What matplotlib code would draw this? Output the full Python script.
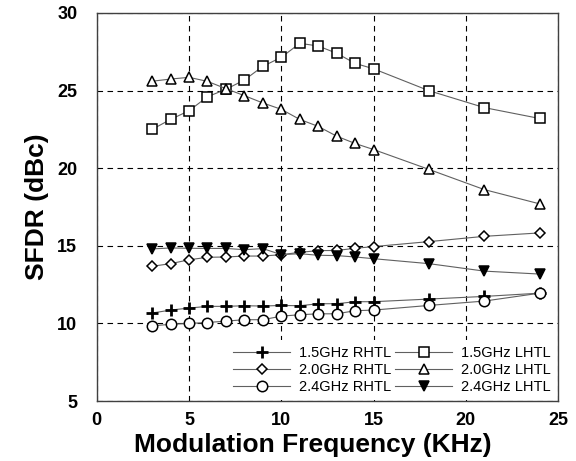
import matplotlib
matplotlib.use('Agg')
import matplotlib.pyplot as plt

plt.rcParams['font.family'] = ['Liberation Sans', 'DejaVu Sans']

# frequences de modulation (KHz)
freq = [3, 4, 5, 6, 7, 8, 9, 10, 11, 12, 13, 14, 15, 18, 21, 24]

# SFDR (dBc)
rhtl_15 = [10.67, 10.86, 10.99, 11.1, 11.1, 11.14, 11.12, 11.16, 11.14, 11.27, 11.27, 11.4, 11.4, 11.57, 11.74, 11.95]
rhtl_20 = [13.68, 13.85, 14.1, 14.26, 14.28, 14.34, 14.34, 14.43, 14.58, 14.69, 14.7, 14.84, 14.95, 15.27, 15.61, 15.83]
rhtl_24 = [9.85, 9.94, 10.0, 10.06, 10.15, 10.24, 10.24, 10.47, 10.56, 10.62, 10.62, 10.82, 10.86, 11.16, 11.44, 11.95]
lhtl_15 = [22.5, 23.14, 23.7, 24.6, 25.08, 25.68, 26.56, 27.14, 28.04, 27.87, 27.4, 26.75, 26.4, 24.99, 23.9, 23.2]
lhtl_20 = [25.6, 25.74, 25.85, 25.59, 25.12, 24.67, 24.2, 23.79, 23.14, 22.69, 22.06, 21.59, 21.2, 19.92, 18.62, 17.7]
lhtl_24 = [14.8, 14.86, 14.84, 14.83, 14.83, 14.75, 14.82, 14.43, 14.49, 14.39, 14.37, 14.28, 14.17, 13.85, 13.37, 13.18]

fig = plt.figure(figsize=(5.76, 4.61), dpi=100)
ax = fig.add_axes([0.168, 0.130, 0.801, 0.842])

ligne = dict(color='#606060', lw=0.8, mec='black', mew=1.1)
# ordre colonne par colonne pour la legende (RHTL puis LHTL)
ax.plot(freq, rhtl_15, marker='+', ms=9, mew=2, color='#606060', lw=0.8, mec='black', label='1.5GHz RHTL')
ax.plot(freq, rhtl_20, marker='D', ms=5, mfc='white', label='2.0GHz RHTL', **ligne)
ax.plot(freq, rhtl_24, marker='o', ms=7.5, mfc='white', label='2.4GHz RHTL', **ligne)
ax.plot(freq, lhtl_15, marker='s', ms=7, mfc='white', label='1.5GHz LHTL', **ligne)
ax.plot(freq, lhtl_20, marker='^', ms=7, mfc='white', label='2.0GHz LHTL', **ligne)
ax.plot(freq, lhtl_24, marker='v', ms=7.5, mfc='black', label='2.4GHz LHTL', **ligne)

ax.set_xlim(0, 25)
ax.set_ylim(5, 30)
ax.set_xticks([0, 5, 10, 15, 20, 25])
ax.set_yticks([5, 10, 15, 20, 25, 30])
ax.grid(True, color='black', linestyle=(0, (5, 4)), linewidth=0.8)
ax.set_axisbelow(True)
ax.tick_params(length=0, labelsize=13)
ax.tick_params(axis='x', pad=8)
ax.tick_params(axis='y', pad=14)
for t in ax.get_xticklabels() + ax.get_yticklabels():
    t.set_fontweight('bold')
for s in ax.spines.values():
    s.set_color('#404040')
    s.set_linewidth(1)
    s.set_zorder(6)

ax.set_xlabel('Modulation Frequency (KHz)', fontsize=19, fontweight='bold')
ax.xaxis.set_label_coords(0.469, -0.082)
ax.xaxis.label.set_va('top')
ax.set_ylabel('SFDR (dBc)', fontsize=19, fontweight='bold', labelpad=6)

leg = ax.legend(ncol=2, loc='lower right', fontsize=10.5, frameon=True, fancybox=False,
                edgecolor='white', facecolor='white', framealpha=1,
                borderaxespad=0.1, handlelength=3.9, columnspacing=0.3,
                labelspacing=0.2, handletextpad=0.6)
leg.get_frame().set_linewidth(0)

fig.savefig('out.png', dpi=100)
